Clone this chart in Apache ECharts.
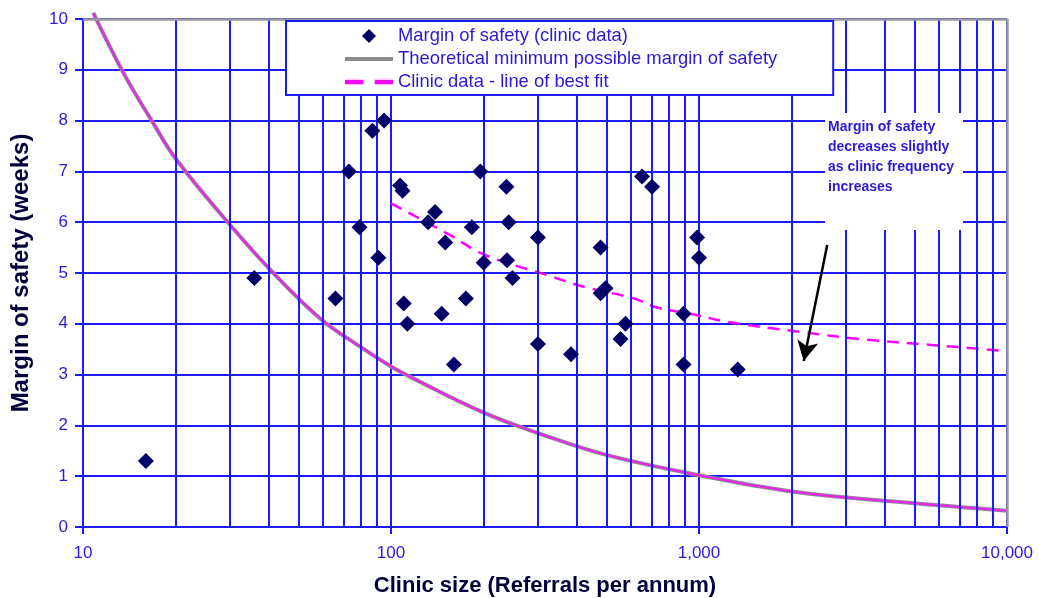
<!DOCTYPE html>
<html>
<head>
<meta charset="utf-8">
<script src="https://cdn.jsdelivr.net/npm/echarts@6/dist/echarts.min.js"></script>
<style>
html,body{margin:0;padding:0;background:#fff;}
#chart{width:1039px;height:598px;}
</style>
</head>
<body>
<div id="chart"></div>
<script>
// Clinic data: referrals per annum (x) and margin of safety in weeks (y)
const clinicX = [16, 36, 66, 73, 79, 87, 91, 95, 107, 109, 110, 113, 132, 139, 146, 150, 160, 175, 183, 195, 200, 237, 238, 241, 248, 300, 300, 384, 479, 479, 497, 556, 577, 653, 704, 891, 891, 986, 1000, 1336];
const clinicY = [1.3, 4.9, 4.5, 7.0, 5.9, 7.8, 5.3, 8.0, 6.72, 6.62, 4.4, 4.0, 6.0, 6.2, 4.2, 5.6, 3.2, 4.5, 5.9, 7.0, 5.2, 6.7, 5.25, 6.0, 4.9, 5.7, 3.6, 3.4, 5.5, 4.6, 4.7, 3.7, 4.0, 6.9, 6.7, 4.2, 3.2, 5.7, 5.3, 3.1];

// Theoretical minimum possible margin of safety
const theoX = [10.8, 13.5, 16.9, 20, 30, 41.5, 59, 79, 100, 115, 200, 300, 500, 1000, 2000, 4500, 10000];
const theoY = [10.12, 8.95, 7.95, 7.25, 5.95, 5.0, 4.1, 3.56, 3.16, 2.96, 2.25, 1.85, 1.42, 1.02, 0.7, 0.49, 0.32];

// Clinic data - line of best fit
const fitX = [100, 152, 203, 321, 422, 614, 731, 986, 1233, 2135, 3342, 5788, 10000];
const fitY = [6.37, 5.78, 5.35, 4.96, 4.73, 4.5, 4.32, 4.17, 4.04, 3.84, 3.70, 3.58, 3.46];

// Axis ticks / minor gridlines
const yTicks = [0, 1, 2, 3, 4, 5, 6, 7, 8, 9, 10];
const xMajorTicks = [10, 100, 1000, 10000];
const xMinorGrid = [20, 30, 40, 50, 60, 70, 80, 90, 200, 300, 400, 500, 600, 700, 800, 900, 2000, 3000, 4000, 5000, 6000, 7000, 8000, 9000];

// Annotation
const noteText = ['Margin of safety', 'decreases slightly', 'as clinic frequency', 'increases'];
const arrowFrom = [2608, 5.55];
const arrowTo = [2188, 3.27];

const names = ['Margin of safety (clinic data)', 'Theoretical minimum possible margin of safety', 'Clinic data - line of best fit'];

const BLUE = '#1a1aff';
const TXT = '#2a1ad8';
const FONT = '"Liberation Sans", Arial, sans-serif';

const zip = (a, b) => a.map((v, i) => [v, b[i]]);

const chart = echarts.init(document.getElementById('chart'), null, {renderer: 'canvas'});
const option = {
  animation: false,
  backgroundColor: '#fff',
  textStyle: {fontFamily: FONT},
  grid: {left: 83, right: 32, top: 19, bottom: 71, show: false, containLabel: false, outerBoundsMode: 'none'},
  legend: {
    z: 30,
    orient: 'vertical',
    left: 286, top: 21,
    padding: [6, 56, 4, 59],
    itemGap: 5,
    itemWidth: 48, itemHeight: 14,
    symbolKeepAspect: true,
    backgroundColor: '#fff',
    borderColor: BLUE, borderWidth: 2, borderRadius: 0,
    textStyle: {color: TXT, fontSize: 18.4, fontFamily: FONT},
    data: [
      {name: names[0], icon: 'path://M0,-10L10,0L0,10L-10,0Z'},
      {name: names[1], icon: 'path://M0,0H48V4H0Z'},
      {name: names[2], icon: 'path://M0,0H16V4H0Z M26,0H42V4H26Z'}
    ]
  },
  xAxis: {
    type: 'log', logBase: 10, min: xMajorTicks[0], max: xMajorTicks[xMajorTicks.length - 1],
    name: 'Clinic size (Referrals per annum)',
    nameLocation: 'middle', nameGap: 48,
    nameTextStyle: {color: '#00003a', fontSize: 22, fontWeight: 'bold', fontFamily: FONT},
    axisLine: {show: true, lineStyle: {color: BLUE, width: 2}},
    axisTick: {show: true, length: 7, lineStyle: {color: BLUE, width: 2}},
    axisLabel: {color: TXT, fontSize: 17, margin: 18, fontFamily: FONT,
      formatter: v => Number(v).toLocaleString('en-US')},
    splitLine: {show: true, lineStyle: {color: BLUE, width: 2}}
  },
  yAxis: {
    type: 'value', min: yTicks[0], max: yTicks[yTicks.length - 1], interval: 1,
    name: 'Margin of safety (weeks)',
    nameLocation: 'middle', nameGap: 50,
    nameTextStyle: {color: '#00003a', fontSize: 24, fontWeight: 'bold', fontFamily: FONT},
    axisLine: {show: true, lineStyle: {color: BLUE, width: 2}},
    axisTick: {show: true, length: 8, lineStyle: {color: BLUE, width: 2}},
    axisLabel: {color: TXT, fontSize: 17, margin: 15, fontFamily: FONT},
    splitLine: {show: true, lineStyle: {color: BLUE, width: 2}}
  },
  series: [
    {
      name: names[0], type: 'scatter', z: 5,
      symbol: 'diamond', symbolSize: 16,
      itemStyle: {color: '#000066', opacity: 1},
      data: zip(clinicX, clinicY),
      markLine: {
        silent: true, symbol: ['none', 'none'], animation: false,
        label: {show: false},
        lineStyle: {color: BLUE, width: 2, type: 'solid'},
        data: xMinorGrid.map(v => ({xAxis: v}))
          .concat([
            {xAxis: xMajorTicks[xMajorTicks.length - 1], lineStyle: {color: '#9a9a9a', width: 2.5}},
            {yAxis: yTicks[yTicks.length - 1], lineStyle: {color: '#9a9a9a', width: 2.5}}
          ])
      }
    },
    {
      name: names[1], type: 'line', z: 3, clip: false,
      symbol: 'none', showSymbol: false, smooth: 0.4,
      lineStyle: {color: '#8c8c8c', width: 4},
      itemStyle: {color: '#8c8c8c'},
      data: zip(theoX, theoY)
    },
    {
      name: 'theoOverlay', type: 'line', z: 4, clip: false,
      symbol: 'none', showSymbol: false, smooth: 0.4,
      lineStyle: {color: '#ee22ee', width: 2},
      data: zip(theoX, theoY)
    },
    {
      name: names[2], type: 'line', z: 4,
      symbol: 'none', showSymbol: false, smooth: 0.4,
      lineStyle: {color: '#ff00ff', width: 2.5, type: [12, 8]},
      itemStyle: {color: '#ff00ff'},
      data: zip(fitX, fitY),
      markLine: {
        silent: true, animation: false,
        symbol: ['none', 'arrow'], symbolSize: [16, 20],
        label: {show: false},
        lineStyle: {color: '#000', width: 2.5, type: 'solid'},
        itemStyle: {color: '#000'},
        data: [[{coord: arrowFrom}, {coord: arrowTo}]]
      }
    }
  ],
  graphic: [
    {type: 'rect', z: 10, silent: true,
     shape: {x: 825, y: 113, width: 138, height: 117},
     style: {fill: '#fff'}},
    {type: 'text', z: 11, silent: true, left: 828, top: 117,
     style: {text: noteText.join('\n'), fill: TXT, font: 'bold 14px ' + FONT, lineHeight: 20}}
  ]
};
chart.setOption(option);
</script>
</body>
</html>
